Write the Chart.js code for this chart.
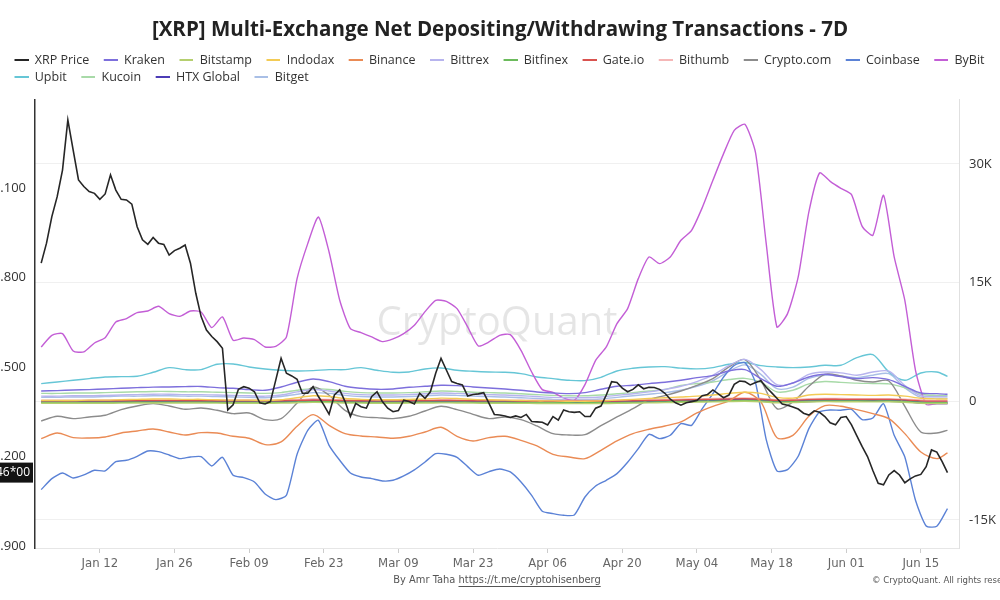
<!DOCTYPE html>
<html>
<head>
<meta charset="utf-8">
<script src="https://cdn.jsdelivr.net/npm/chart.js@4.4.1/dist/chart.umd.min.js"></script>
<style>
  html, body { margin: 0; padding: 0; background: #fff; }
  #wrap { width: 1000px; height: 600px; }
</style>
</head>
<body>
<div id="wrap"><canvas id="flows-chart" width="1000" height="600"></canvas></div>
<script>
// days since Jan 01
const priceDays = Array.from({ length: 171 }, (_, i) => i);
const flowDays2 = Array.from({ length: 86 }, (_, i) => i * 2);
const flowDays3 = Array.from({ length: 57 }, (_, i) => i * 3).concat([170]);

const xTickDays = [11, 25, 39, 53, 67, 81, 95, 109, 123, 137, 151, 165];
const xTickLabels = ['Jan 12', 'Jan 26', 'Feb 09', 'Feb 23', 'Mar 09', 'Mar 23', 'Apr 06', 'Apr 20', 'May 04', 'May 18', 'Jun 01', 'Jun 15'];
const priceTicks = [1.9, 2.2, 2.5, 2.8, 3.1];
const priceTickLabels = ['1.900', '2.200', '2.500', '2.800', '3.100'];
const flowTicks = [-15000, 0, 15000, 30000];
const flowTickLabels = ['-15K', '0', '15K', '30K'];

const xrpPrice = [
  2.848, 2.915, 3.004, 3.071, 3.160, 3.328, 3.227, 3.127, 3.105, 3.088,
  3.082, 3.062, 3.080, 3.144, 3.093, 3.062, 3.060, 3.046, 2.970, 2.926,
  2.911, 2.934, 2.915, 2.911, 2.875, 2.890, 2.898, 2.909, 2.848, 2.747,
  2.669, 2.624, 2.602, 2.585, 2.563, 2.356, 2.373, 2.425, 2.434, 2.429,
  2.417, 2.380, 2.376, 2.384, 2.456, 2.529, 2.479, 2.470, 2.459, 2.412,
  2.412, 2.434, 2.401, 2.373, 2.342, 2.406, 2.423, 2.384, 2.334, 2.378,
  2.367, 2.362, 2.401, 2.417, 2.384, 2.362, 2.350, 2.354, 2.389, 2.384,
  2.376, 2.412, 2.395, 2.417, 2.479, 2.529, 2.490, 2.451, 2.445, 2.440,
  2.403, 2.408, 2.410, 2.414, 2.378, 2.341, 2.339, 2.336, 2.331, 2.336,
  2.331, 2.341, 2.317, 2.316, 2.315, 2.306, 2.334, 2.322, 2.356, 2.350,
  2.348, 2.350, 2.334, 2.334, 2.362, 2.369, 2.406, 2.451, 2.448, 2.429,
  2.417, 2.425, 2.440, 2.427, 2.432, 2.431, 2.425, 2.412, 2.392, 2.380,
  2.372, 2.380, 2.384, 2.388, 2.404, 2.408, 2.423, 2.410, 2.397, 2.406,
  2.442, 2.453, 2.451, 2.440, 2.448, 2.454, 2.432, 2.414, 2.395, 2.376,
  2.372, 2.366, 2.359, 2.345, 2.339, 2.353, 2.348, 2.334, 2.313, 2.306,
  2.331, 2.334, 2.306, 2.269, 2.233, 2.200, 2.153, 2.110, 2.105, 2.138,
  2.153, 2.138, 2.112, 2.125, 2.135, 2.140, 2.166, 2.222, 2.215, 2.183,
  2.146
];

// every 2 days
const coinbase = [
  -11162, -9772, -9056, -9687, -9307, -8718, -8802, -7623, -7455, -6949,
  -6275, -6359, -6781, -7244, -7033, -6991, -8170, -7075, -9349, -9645,
  -10193, -11709, -12426, -11878, -6700, -3664, -2400, -5559, -7455, -9056,
  -9561, -9772, -10066, -9982, -9433, -8676, -7665, -6612, -6697, -7075,
  -8254, -9349, -8887, -8550, -8929, -10193, -11878, -13900, -14195, -14406,
  -14364, -12089, -10699, -9982, -9140, -7707, -5980, -4169, -4717, -4295,
  -2821, -3033, -925, 971, 3078, 4553, 4890, 2320, -4843, -8802,
  -8634, -6949, -3453, -1346, -1093, -1135, -1009, -2316, -2105, -300,
  -4295, -7033, -12510, -15754, -15796, -13563
];
const bybit = [
  6870, 8344, 8555, 6364, 6238, 7375, 8050, 10030, 10451, 11210,
  11420, 12010, 11083, 10745, 11420, 11294, 9314, 10661, 7712, 8007,
  7797, 6870, 6954, 8133, 15506, 19930, 23300, 18877, 12768, 9186,
  8682, 8133, 7544, 7881, 8555, 9608, 11336, 12768, 12642, 11715,
  9398, 6996, 7501, 8344, 8429, 6449, 3710, 1477, 1140, 424,
  129, 2109, 5184, 6870, 9819, 11715, 15506, 18245, 17402, 18245,
  20351, 21615, 24480, 27935, 31305, 34254, 35013, 31390, 19930, 9398,
  11083, 15717, 23932, 28861, 27808, 26924, 26123, 22121, 20983, 26039,
  18245, 12768, 3921, -377, -293, -293
];

// every 3 days (last point Jun 20)
const upbit = [
  2236, 2447, 2657, 2868, 3078, 3120, 3163, 3668, 4258, 4005, 4005, 4679, 4721, 4342, 4089,
  3921, 3837, 3879, 4005, 4005, 4258, 3921, 3668, 3710, 4089, 4216, 3921, 3795, 3710,
  3668, 3500, 3078, 2868, 2657, 2615, 3036, 3837, 4174, 4342, 4384, 4200, 4100, 4258, 4679,
  4900, 4511, 4342, 4258, 4342, 4553, 4553, 5521, 5900, 3710, 2657, 3584, 3710, 3163
];
const kraken = [
  1308, 1350, 1430, 1480, 1560, 1650, 1730, 1800, 1814, 1860, 1880, 1730, 1650, 1480, 1390,
  1814, 2404, 2826, 2489, 1898, 1645, 1519, 1561, 1772, 1898, 2024, 1982, 1814, 1688,
  1561, 1393, 1182, 1056, 971, 1098, 1519, 1898, 2024, 2236, 2404, 2657, 2995, 3247, 3837,
  4005, 2868, 1898, 2320, 3078, 3415, 3120, 2868, 2995, 2742, 1898, 1056, 971, 887
];
const cryptoCom = [
  -2483, -1894, -2189, -1978, -1768, -1051, -587, -292, -587, -1009, -840, -1135, -1557, -1473, -2316,
  -2189, -209, 1814, 761, -1135, -1936, -2062, -2189, -1894, -1220, -629, -1051, -1641, -2189,
  -1978, -2316, -3117, -4084, -4253, -4211, -3074, -1978, -925, 213, 718, 1308, 2024, 2868, 4342,
  5268, 2657, -925, -82, 1898, 3415, 3205, 2657, 2447, 2573, -629, -3874, -4001, -3664
];
const binance = [
  -4717, -4001, -4590, -4632, -4506, -4001, -3748, -3495, -3874, -4253, -3958, -4001, -4422, -4674, -5475,
  -5138, -3159, -1683, -3033, -4084, -4379, -4506, -4674, -4422, -3874, -3285, -4422, -5011, -4590,
  -4422, -4927, -5643, -6697, -7033, -7244, -6191, -5011, -4084, -3537, -3117, -2610, -1473, -629, 45,
  1140, -82, -4590, -4295, -1894, -545, -629, -1051, -1557, -2189, -4084, -6401, -7244, -6528
];
const kucoin = [
  1000, 1000, 1050, 1050, 1100, 1150, 1200, 1250, 1250, 1200, 1200, 1150, 1100, 1050, 1000,
  1100, 1400, 1600, 1500, 1250, 1100, 1050, 1050, 1100, 1200, 1300, 1250, 1150, 1100,
  1050, 950, 850, 750, 700, 700, 800, 950, 1100, 1300, 1500, 2000, 2250, 2450, 2750,
  2900, 2400, 1200, 1400, 2200, 2500, 2400, 2300, 2250, 2200, 1700, 900, 750, 750
];
const bittrex = [
  650, 650, 700, 700, 750, 800, 850, 900, 900, 850, 850, 800, 750, 700, 650,
  800, 1200, 1500, 1300, 1000, 850, 800, 800, 850, 950, 1050, 1000, 900, 850,
  800, 700, 600, 500, 450, 450, 550, 750, 950, 1200, 1500, 1900, 2500, 3300, 4500,
  5300, 4000, 2100, 2300, 3400, 3700, 3600, 3300, 3700, 3800, 2000, 700, 600, 600
];
const bitget = [
  500, 500, 550, 550, 600, 650, 650, 700, 700, 650, 650, 600, 550, 500, 450,
  600, 900, 1100, 1000, 750, 600, 550, 550, 600, 700, 800, 750, 650, 600,
  550, 450, 350, 250, 200, 200, 300, 500, 700, 900, 1100, 1400, 1900, 2600, 3800,
  4600, 3400, 1600, 1800, 2900, 3300, 3200, 3000, 3300, 3500, 1700, 500, 400, 400
];
const indodax = [
  100, 100, 100, 150, 150, 200, 250, 300, 300, 250, 250, 200, 150, 150, 100,
  200, 450, 700, 600, 350, 250, 200, 200, 250, 300, 400, 350, 250, 200,
  150, 100, 50, 50, 0, 0, 50, 150, 250, 350, 450, 550, 650, 800, 1000,
  1150, 1000, 500, 400, 800, 900, 850, 800, 750, 800, 650, 380, 300, 300
];
const htxGlobal = [
  -50, -50, -40, -40, -30, -20, 0, 10, 10, 0, -10, -20, -30, -40, -50,
  -20, 80, 150, 100, 20, -30, -40, -40, -30, -10, 20, 10, -20, -40,
  -60, -80, -100, -130, -150, -150, -120, -80, -40, -10, 20, 50, 80, 110, 150,
  180, 120, -50, -30, 60, 100, 90, 80, 70, 80, 20, -150, -200, -200
];
const gateio = [
  50, 50, 50, 60, 60, 70, 80, 90, 90, 80, 80, 70, 60, 60, 50,
  70, 120, 160, 140, 90, 70, 60, 60, 70, 80, 100, 90, 70, 60,
  50, 40, 30, 20, 10, 10, 20, 40, 70, 100, 130, 170, 210, 250, 300,
  320, 260, 120, 140, 220, 260, 250, 240, 230, 240, 180, 60, 20, 20
];
const bithumb = [
  150, 150, 150, 160, 160, 170, 180, 190, 190, 180, 180, 170, 160, 160, 150,
  170, 220, 260, 240, 190, 170, 160, 160, 170, 180, 200, 190, 170, 160,
  150, 140, 130, 120, 110, 110, 120, 140, 170, 200, 230, 270, 310, 350, 400,
  420, 360, 220, 240, 320, 360, 350, 340, 330, 340, 280, 160, 120, 120
];
const bitfinex = [
  -150, -150, -150, -140, -140, -130, -120, -110, -110, -120, -120, -130, -140, -140, -150,
  -130, -80, -40, -60, -110, -130, -140, -140, -130, -120, -100, -110, -130, -140,
  -150, -160, -170, -180, -190, -190, -180, -160, -130, -100, -70, -30, 0, 30, 70,
  100, 50, -80, -60, 20, 60, 50, 40, 30, 40, -20, -140, -180, -180
];
const bitstamp = [
  -250, -250, -250, -240, -240, -230, -220, -210, -210, -220, -220, -230, -240, -240, -250,
  -230, -180, -140, -160, -210, -230, -240, -240, -230, -220, -200, -210, -230, -240,
  -250, -260, -270, -280, -290, -290, -280, -260, -230, -200, -170, -130, -100, -70, -30,
  0, -50, -180, -160, -80, -40, -50, -60, -70, -60, -120, -240, -280, -280
];

const narrowFont = '"Liberation Sans Narrow", "DejaVu Sans Condensed", "Liberation Sans", sans-serif';

// short line used as legend marker, blank space on its left
function swatch(color) {
  const c = document.createElement('canvas');
  c.width = 24;
  c.height = 2;
  const g = c.getContext('2d');
  g.fillStyle = color;
  g.fillRect(10, 0, 14, 2);
  return c;
}

function series(label, days, values, color, axis, width, tension) {
  return {
    label: label,
    data: days.map((d, i) => ({ x: d, y: values[i] })),
    borderColor: color,
    backgroundColor: color,
    borderWidth: width,
    pointRadius: 0,
    pointHoverRadius: 0,
    tension: tension,
    yAxisID: axis,
    swatch: swatch(color)
  };
}

const datasets = [
  series('XRP Price', priceDays, xrpPrice, '#262626', 'price', 1.6, 0),
  series('Kraken', flowDays3, kraken, '#7d6fdc', 'flow', 1.4, 0.3),
  series('Bitstamp', flowDays3, bitstamp, '#b5cf6f', 'flow', 1.4, 0.3),
  series('Indodax', flowDays3, indodax, '#f3cb55', 'flow', 1.4, 0.3),
  series('Binance', flowDays3, binance, '#ea8b55', 'flow', 1.4, 0.3),
  series('Bittrex', flowDays3, bittrex, '#b7b4ee', 'flow', 1.4, 0.3),
  series('Bitfinex', flowDays3, bitfinex, '#6cbb5c', 'flow', 1.4, 0.3),
  series('Gate.io', flowDays3, gateio, '#d9534f', 'flow', 1.4, 0.3),
  series('Bithumb', flowDays3, bithumb, '#f5b7b7', 'flow', 1.4, 0.3),
  series('Crypto.com', flowDays3, cryptoCom, '#8c8c8c', 'flow', 1.4, 0.3),
  series('Coinbase', flowDays2, coinbase, '#5b82d6', 'flow', 1.4, 0.2),
  series('ByBit', flowDays2, bybit, '#c35ed6', 'flow', 1.4, 0.2),
  series('Upbit', flowDays3, upbit, '#66c6d6', 'flow', 1.4, 0.3),
  series('Kucoin', flowDays3, kucoin, '#a8daa8', 'flow', 1.4, 0.3),
  series('HTX Global', flowDays3, htxGlobal, '#4c3cb6', 'flow', 2.6, 0.3),
  series('Bitget', flowDays3, bitget, '#a9bfe6', 'flow', 1.4, 0.3)
];

const extras = {
  id: 'extras',
  beforeDatasetsDraw(chart) {
    const { ctx, chartArea } = chart;
    ctx.save();
    ctx.font = '40px "Open Sans"';
    ctx.fillStyle = 'rgba(0,0,0,0.1)';
    ctx.textAlign = 'center';
    ctx.textBaseline = 'middle';
    ctx.fillText('CryptoQuant', (chartArea.left + chartArea.right) / 2, (chartArea.top + chartArea.bottom) / 2);
    ctx.restore();
  },
  afterDraw(chart) {
    const { ctx } = chart;
    const last = xrpPrice[xrpPrice.length - 1];
    const y = chart.scales.price.getPixelForValue(last);
    ctx.save();
    ctx.fillStyle = '#141414';
    ctx.fillRect(0, y - 10, 33, 20);
    ctx.fillStyle = '#fff';
    ctx.font = '12px "Open Sans"';
    ctx.textAlign = 'right';
    ctx.textBaseline = 'middle';
    ctx.fillText(last.toFixed(3) + '*00', 30, y);

    // footer
    ctx.font = '11px ' + narrowFont;
    ctx.fillStyle = '#555';
    ctx.textAlign = 'left';
    const by = 'By Amr Taha ';
    const link = 'https://t.me/cryptohisenberg';
    const wBy = ctx.measureText(by).width;
    const wLink = ctx.measureText(link).width;
    const x0 = 497 - (wBy + wLink) / 2;
    ctx.fillText(by, x0, 580);
    ctx.fillText(link, x0 + wBy, 580);
    ctx.strokeStyle = '#555';
    ctx.lineWidth = 1;
    ctx.beginPath();
    ctx.moveTo(x0 + wBy, 586.5);
    ctx.lineTo(x0 + wBy + wLink, 586.5);
    ctx.stroke();
    ctx.font = '9.5px ' + narrowFont;
    ctx.fillText('\u00A9 CryptoQuant. All rights reserved.', 872, 581);
    ctx.restore();
  }
};

const ctx = document.getElementById('flows-chart').getContext('2d');
new Chart(ctx, {
  type: 'line',
  data: { datasets: datasets },
  options: {
    responsive: false,
    animation: false,
    events: [],
    layout: { padding: 0 },
    plugins: {
      title: {
        display: true,
        text: '[XRP] Multi-Exchange Net Depositing/Withdrawing Transactions - 7D',
        color: '#222',
        font: { family: 'Open Sans', size: 20.5, weight: 'bold' },
        padding: { top: 17.5, bottom: 7.5 }
      },
      subtitle: {
        display: true,
        text: '',
        weight: 500,
        font: { size: 5.3 },
        padding: 0
      },
      legend: {
        display: true,
        position: 'top',
        align: 'start',
        labels: {
          usePointStyle: true,
          pointStyleWidth: 24,
          padding: 4.5,
          color: '#333',
          font: { family: 'Open Sans', size: 12.5 },
          generateLabels: chart => Chart.defaults.plugins.legend.labels.generateLabels(chart).map(item => {
            item.pointStyle = chart.data.datasets[item.datasetIndex].swatch;
            return item;
          })
        }
      },
      tooltip: { enabled: false }
    },
    scales: {
      x: {
        type: 'linear',
        min: -1.16,
        max: 172.16,
        afterBuildTicks: s => { s.ticks = xTickDays.map(v => ({ value: v })); },
        afterFit: s => { s.height = 52; },
        ticks: {
          autoSkip: false,
          maxRotation: 0,
          padding: 3,
          color: '#666',
          font: { family: narrowFont, size: 13 },
          callback: (v, i) => xTickLabels[i]
        },
        grid: { drawOnChartArea: false, drawTicks: true, tickLength: 5, color: '#cccccc' },
        border: { color: '#e6e6e6' }
      },
      price: {
        position: 'left',
        min: 1.8933,
        max: 3.395,
        afterBuildTicks: s => { s.ticks = priceTicks.map(v => ({ value: v })); },
        afterFit: s => { s.width = 35; },
        ticks: {
          padding: 9,
          color: '#333',
          font: { family: 'Open Sans', size: 13 },
          callback: (v, i) => priceTickLabels[i]
        },
        grid: { display: false, drawTicks: false },
        border: { display: true, color: '#333', width: 1.5 }
      },
      flow: {
        position: 'right',
        min: -18540,
        max: 38090,
        afterBuildTicks: s => { s.ticks = flowTicks.map(v => ({ value: v })); },
        afterFit: s => { s.width = 41; },
        ticks: {
          padding: 10,
          color: '#333',
          font: { family: 'Open Sans', size: 13 },
          callback: (v, i) => flowTickLabels[i]
        },
        grid: { drawTicks: false, color: '#f0f0f0' },
        border: { color: '#e0e0e0' }
      }
    }
  },
  plugins: [extras]
});
</script>
</body>
</html>
